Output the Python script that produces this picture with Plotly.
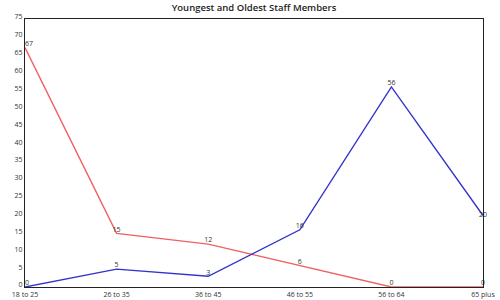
import plotly.graph_objects as go

categories = ["18 to 25", "26 to 35", "36 to 45", "46 to 55", "56 to 64", "65 plus"]
oldest = [0, 5, 3, 16, 56, 20]
youngest = [67, 15, 12, 6, 0, 0]
y_ticks = list(range(0, 80, 5))

fig = go.Figure()
fig.add_trace(go.Scatter(
    x=categories, y=youngest, mode="lines+text", text=[str(v) for v in youngest],
    textposition=["top right", "top center", "top center", "top center", "top center", "top center"],
    textfont=dict(size=7, color="#333333", family="Open Sans"),
    line=dict(color="#f06262", width=1.4), cliponaxis=False, showlegend=False))
fig.add_trace(go.Scatter(
    x=categories, y=oldest, mode="lines+text", text=[str(v) for v in oldest],
    textposition=["top right", "top center", "top center", "top center", "top center", "middle center"],
    textfont=dict(size=7, color="#333333", family="Open Sans"),
    line=dict(color="#3333cc", width=1.4), cliponaxis=False, showlegend=False))

fig.update_layout(
    width=500, height=300,
    margin=dict(l=25, r=17, t=19, b=13),
    paper_bgcolor="white", plot_bgcolor="white",
    title=dict(text="Youngest and Oldest Staff Members", x=0.508, xanchor="center",
               y=0.985, yanchor="top",
               font=dict(size=9.5, color="#222222", family="Open Sans", weight=600)),
    font=dict(family="Open Sans", size=7, color="#333333"),
    xaxis=dict(type="category", range=[0, 5], showgrid=False, zeroline=False,
               showline=True, linecolor="#222222", linewidth=1, mirror=True,
               ticks="", tickfont=dict(size=7), automargin=False, ticklabelstandoff=1),
    yaxis=dict(range=[0, 75], tickvals=y_ticks, showgrid=False, zeroline=False,
               showline=True, linecolor="#222222", linewidth=1, mirror=True,
               ticks="", tickfont=dict(size=7), automargin=False, ticklabelshift=-2),
)
fig.write_html("out.html")
